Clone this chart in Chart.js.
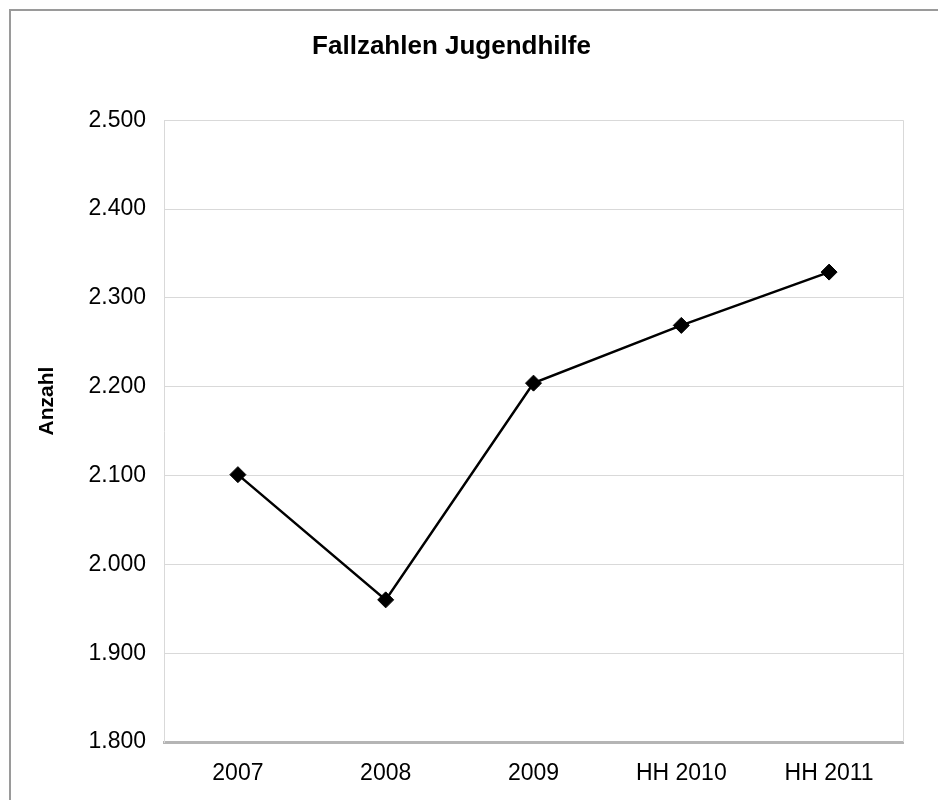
<!DOCTYPE html>
<html>
<head>
<meta charset="utf-8">
<script src="https://cdn.jsdelivr.net/npm/chart.js@4/dist/chart.umd.min.js"></script>
<style>
  html, body { margin: 0; padding: 0; background: #fff; }
  #frame { position: absolute; left: 9px; top: 9px; width: 1000px; height: 900px;
           border-left: 2px solid #9a9a9a; border-top: 2px solid #9a9a9a; }
  #wrap { position: absolute; left: 0; top: 0; width: 938px; height: 800px; }
</style>
</head>
<body>
<div id="frame"></div>
<div id="wrap"><canvas id="chart"></canvas></div>
<script>
var labels = ['2007', '2008', '2009', 'HH 2010', 'HH 2011'];
var fallzahlen = [2101, 1960, 2204, 2269, 2329];
var yMin = 1800;
var yMax = 2500;
var yStep = 100;
var yTitle = 'Anzahl';

function formatDE(v) {
  return String(v).replace(/\B(?=(\d{3})+(?!\d))/g, '.');
}

var FONT = '"Liberation Sans", Arial, sans-serif';

// right border of the plot area + y axis title (sits a bit above the middle)
var extras = {
  id: 'extras',
  afterDraw: function(chart) {
    var a = chart.chartArea, c = chart.ctx;
    c.save();
    c.strokeStyle = '#d9d9d9';
    c.lineWidth = 1;
    c.beginPath();
    c.moveTo(a.right + 0.5, a.top);
    c.lineTo(a.right + 0.5, a.bottom);
    c.stroke();

    c.translate(chart.scales.y.left + 47, (a.top + a.bottom) / 2 - 30);
    c.rotate(-Math.PI / 2);
    c.fillStyle = '#000';
    c.font = 'bold 21px ' + FONT;
    c.textAlign = 'center';
    c.textBaseline = 'middle';
    c.fillText(yTitle, 0, 0);
    c.restore();
  }
};

var ctx = document.getElementById('chart').getContext('2d');
var myChart = new Chart(ctx, {
  type: 'line',
  data: {
    labels: labels,
    datasets: [{
      label: 'Fallzahlen',
      data: fallzahlen,
      borderColor: '#000',
      backgroundColor: '#000',
      borderWidth: 2.5,
      pointStyle: 'rectRot',
      pointRadius: 8,
      pointBorderWidth: 1,
      tension: 0,
      fill: false
    }]
  },
  options: {
    responsive: true,
    maintainAspectRatio: false,
    animation: false,
    layout: { padding: { left: 0, right: 35, top: 0, bottom: 0 } },
    plugins: {
      legend: { display: false },
      tooltip: { enabled: false },
      title: {
        display: true,
        text: 'Fallzahlen Jugendhilfe',
        color: '#000',
        font: { family: FONT, size: 26, weight: 'bold' },
        padding: { top: 31, bottom: 58 }
      }
    },
    scales: {
      x: {
        offset: true,
        afterFit: function(scale) { scale.height = 58; },
        grid: { display: false, drawTicks: false },
        border: { display: true, color: '#b5b5b5', width: 3 },
        ticks: {
          color: '#000',
          padding: 18,
          font: { family: FONT, size: 23 }
        }
      },
      y: {
        min: yMin,
        max: yMax,
        afterFit: function(scale) { scale.width = 164; },
        grid: { color: '#d9d9d9', lineWidth: 1, drawTicks: false },
        border: { display: true, color: '#d9d9d9', width: 1 },
        ticks: {
          stepSize: yStep,
          color: '#000',
          padding: 18,
          font: { family: FONT, size: 23 },
          callback: function(v) { return formatDE(v); }
        }
      }
    }
  },
  plugins: [extras]
});
</script>
</body>
</html>
